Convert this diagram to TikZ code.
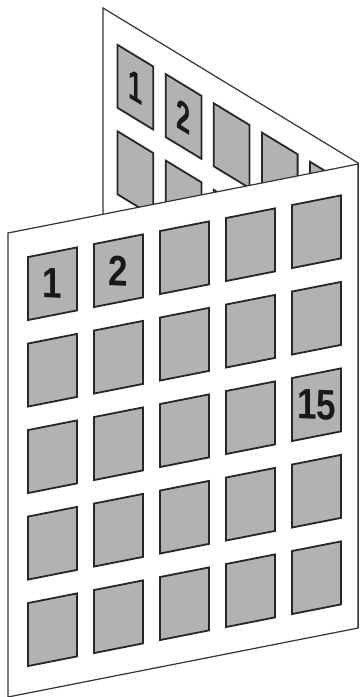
\documentclass[tikz,border=0pt]{standalone}
\usepackage{fontspec}
\setsansfont{Liberation Sans}

\begin{document}
\begin{tikzpicture}[
  x=1pt,y=1pt,
  sheet/.style={draw=black!80,fill=white,line width=1.2pt},
  cell/.style={draw=black!85,fill=black!30,line width=1.8pt,transform shape,
    minimum width=49pt,minimum height=63pt,inner sep=0pt},
  num/.style={font=\sffamily\bfseries\fontsize{35}{35}\selectfont,text=black!90,
    transform shape,yscale=1.22,inner sep=0pt},
  upright/.style={yslant=-0.197}
]
  \useasboundingbox (0,0) rectangle (360,697);

  % back page, seen from the fold
  \begin{scope}[cm={0.729,-0.443,0,1,(103,225)}]
    \draw[sheet] (0,0) rectangle (350,464);
    \foreach \r in {0,...,4}
      \foreach \c in {0,...,4}
        \node[cell] (b-\r-\c) at ({44.5+66*\c},{404.5-86.5*\r}) {};
    \node[num] (b-one) at (b-0-0) {1};
    \node[num] (b-two) at (b-0-1) {2};
  \end{scope}

  % front page
  \begin{scope}[cm={1,0.197,0,1,(8,0)}]
    \draw[sheet] (0,0) rectangle (350,464);
    \foreach \r in {0,...,4}
      \foreach \c in {0,...,4}
        \node[cell] (f-\r-\c) at ({44.5+66*\c},{404.5-86.5*\r}) {};
    \node[num,upright] (f-one) at (f-0-0) {1};
    \node[num,upright] (f-two) at (f-0-1) {2};
    \node[num,upright] (f-fifteen) at (f-2-4) {15};
  \end{scope}
\end{tikzpicture}
\end{document}
